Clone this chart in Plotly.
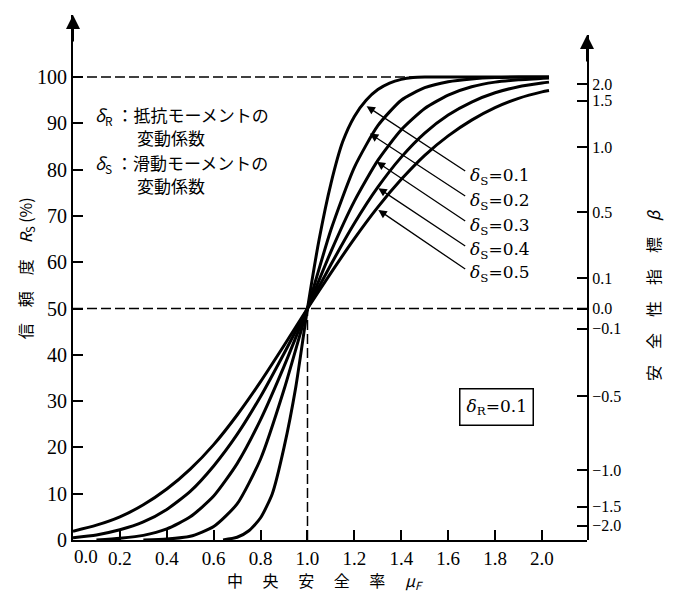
import plotly.graph_objects as go

# ---- data ----
mu_01 = [0.64, 0.70, 0.75, 0.80, 0.85, 0.90, 0.95, 1.00, 1.05, 1.10, 1.15, 1.20, 1.25, 1.30, 1.35, 1.40, 1.45, 1.50, 1.60, 2.03]
rs_01 = [0.0, 0.6, 2.0, 4.8, 10.0, 20.0, 33.0, 50.0, 65.0, 77.0, 86.0, 91.5, 95.0, 97.3, 98.7, 99.5, 99.9, 100.0, 100.0, 100.0]

mu_02 = [0.30, 0.40, 0.50, 0.60, 0.70, 0.80, 0.90, 1.00, 1.10, 1.20, 1.30, 1.40, 1.50, 1.60, 1.70, 1.80, 1.90, 2.03]
rs_02 = [0.0, 0.2, 0.8, 2.9, 7.8, 17.5, 32.5, 50.0, 67.0, 80.5, 89.5, 95.0, 97.7, 99.0, 99.6, 99.9, 100.0, 100.0]

mu_03 = [0.10, 0.20, 0.30, 0.40, 0.50, 0.60, 0.70, 0.80, 0.90, 1.00, 1.10, 1.20, 1.30, 1.40, 1.50, 1.60, 1.70, 1.80, 1.90, 2.03]
rs_03 = [0.0, 0.4, 1.0, 2.4, 5.0, 9.5, 16.5, 26.0, 37.5, 50.0, 62.3, 73.2, 82.0, 88.6, 93.2, 96.1, 97.9, 98.9, 99.4, 99.8]

mu_04 = [0.0, 0.1, 0.2, 0.3, 0.4, 0.5, 0.6, 0.7, 0.8, 0.9, 1.0, 1.1, 1.2, 1.3, 1.4, 1.5, 1.6, 1.7, 1.8, 1.9, 2.0, 2.03]
rs_04 = [0.5, 1.1, 2.2, 3.9, 6.6, 10.5, 16.0, 22.8, 31.0, 40.3, 50.0, 59.5, 68.4, 76.2, 82.7, 87.9, 91.8, 94.6, 96.6, 97.9, 98.7, 98.9]

mu_05 = [0.0, 0.1, 0.2, 0.3, 0.4, 0.5, 0.6, 0.7, 0.8, 0.9, 1.0, 1.1, 1.2, 1.3, 1.4, 1.5, 1.6, 1.7, 1.8, 1.9, 2.0, 2.03]
rs_05 = [1.9, 3.2, 5.0, 7.6, 11.0, 15.3, 20.6, 27.0, 34.2, 42.0, 50.0, 57.7, 65.1, 71.9, 77.9, 83.1, 87.3, 90.7, 93.4, 95.4, 96.8, 97.1]

curve_labels = ["0.1", "0.2", "0.3", "0.4", "0.5"]
arrow_head_mu = [1.252, 1.266, 1.295, 1.302, 1.302]
arrow_head_rs = [93.7, 87.8, 81.7, 76.0, 71.3]
arrow_tail_mu = [1.679, 1.679, 1.679, 1.679, 1.679]
arrow_tail_rs = [79.5, 74.1, 68.7, 63.3, 58.3]
label_rs = [78.6, 73.2, 67.8, 62.6, 57.5]

y_ticks = [0, 10, 20, 30, 40, 50, 60, 70, 80, 90, 100]
x_ticks = [0.2, 0.4, 0.6, 0.8, 1.0, 1.2, 1.4, 1.6, 1.8, 2.0]
x_ticktext = ["0.2", "0.4", "0.6", "0.8", "1.0", "1.2", "1.4", "1.6", "1.8", "2.0"]
beta_labels = ["2.0", "1.5", "1.0", "0.5", "0.1", "0.0", "\u22120.1", "\u22120.5", "\u22121.0", "\u22121.5", "\u22122.0"]
beta_pos = [98.5, 94.9, 84.9, 70.8, 56.6, 50.0, 45.6, 31.1, 15.1, 7.2, 3.1]

X_MAX = 2.192
Y_MAX = 113.4
Y2_MAX = 109.07

SERIF = "Liberation Serif, 'Noto Sans CJK JP'"
DSERIF = "DejaVu Serif, 'Noto Sans CJK JP'"
CJK = "'Noto Sans CJK JP', Liberation Serif"

fig = go.Figure()

for mu, rs in [(mu_01, rs_01), (mu_02, rs_02), (mu_03, rs_03), (mu_04, rs_04), (mu_05, rs_05)]:
    fig.add_trace(go.Scatter(x=mu, y=rs, mode="lines",
                             line=dict(color="black", width=3, shape="spline", smoothing=0.6),
                             showlegend=False, hoverinfo="skip"))

# dummy trace for right axis
fig.add_trace(go.Scatter(x=[None], y=[None], yaxis="y2", showlegend=False))

DASH = dict(color="black", width=1.5, dash="10px,4px")
shapes = [
    dict(type="line", xref="x", yref="y", x0=0, x1=2.03, y0=100, y1=100, line=DASH),
    dict(type="line", xref="x", yref="y", x0=0, x1=X_MAX, y0=50, y1=50, line=DASH),
    dict(type="line", xref="x", yref="y", x0=1.0, x1=1.0, y0=0, y1=50, line=DASH),
]

ann = []
# axis arrows
ann.append(dict(x=0, y=Y_MAX, xref="x", yref="y", ax=0, ay=28, text="", showarrow=True,
                arrowhead=2, arrowsize=1.4, arrowwidth=2, arrowcolor="black"))
ann.append(dict(x=X_MAX, y=Y2_MAX, xref="x", yref="y2", ax=0, ay=28, text="", showarrow=True,
                arrowhead=2, arrowsize=1.4, arrowwidth=2, arrowcolor="black"))

# curve labels with arrows
for lab, hx, hy, tx, ty, ly in zip(curve_labels, arrow_head_mu, arrow_head_rs,
                                   arrow_tail_mu, arrow_tail_rs, label_rs):
    ann.append(dict(x=hx, y=hy, xref="x", yref="y", ax=tx, ay=ty, axref="x", ayref="y",
                    text="", showarrow=True, arrowhead=2, arrowsize=1.3, arrowwidth=1.3,
                    arrowcolor="black"))
    ann.append(dict(x=tx + 0.005, y=ly, xref="x", yref="y", xanchor="left", yanchor="middle",
                    text="<i>\u03b4</i><sub>S</sub>=" + lab, showarrow=False,
                    font=dict(family=DSERIF, size=17, color="black")))

# notes
ann.append(dict(x=0.085, y=91.8, xref="x", yref="y", xanchor="left", yanchor="middle",
                text="<i>\u03b4</i><sub>R</sub> \uff1a抵抗モーメントの", showarrow=False,
                font=dict(family=CJK, size=17, color="black")))
ann.append(dict(x=0.264, y=87.0, xref="x", yref="y", xanchor="left", yanchor="middle",
                text="変動係数", showarrow=False, font=dict(family=CJK, size=17, color="black")))
ann.append(dict(x=0.085, y=81.4, xref="x", yref="y", xanchor="left", yanchor="middle",
                text="<i>\u03b4</i><sub>S</sub> \uff1a滑動モーメントの", showarrow=False,
                font=dict(family=CJK, size=17, color="black")))
ann.append(dict(x=0.264, y=76.5, xref="x", yref="y", xanchor="left", yanchor="middle",
                text="変動係数", showarrow=False, font=dict(family=CJK, size=17, color="black")))

# boxed label
ann.append(dict(x=1.808, y=28.7, xref="x", yref="y", text="<i>\u03b4</i><sub>R</sub>=0.1",
                showarrow=False, bordercolor="black", borderwidth=1.5, borderpad=6,
                font=dict(family=DSERIF, size=17, color="black")))

# 0.0 x tick label (offset right of the axis)
ann.append(dict(x=0.055, y=0, xref="x", yref="y", yanchor="top", yshift=-4, text="0.0",
                showarrow=False, font=dict(family=SERIF, size=19, color="black")))

# axis titles
ann.append(dict(x=(25 - 73) / 514, y=58.7, xref="paper", yref="y", textangle=-90,
                xanchor="center", yanchor="middle",
                text="信\u3000頼\u3000度\u3000<i>R</i><sub>S</sub> (%)", showarrow=False,
                font=dict(family=CJK, size=16, color="black")))
ann.append(dict(x=(653 - 73) / 514, y=52.9, xref="paper", yref="y", textangle=-90,
                xanchor="center", yanchor="middle",
                text="安\u3000全\u3000性\u3000指\u3000標\u3000<i>β</i>", showarrow=False,
                font=dict(family=CJK, size=16, color="black")))
ann.append(dict(x=(325 - 73) / 514, y=(540 - 580) / 525, xref="paper", yref="paper",
                xanchor="center", yanchor="middle",
                text="中\u3000 央\u3000 安\u3000 全\u3000 率\u3000 <i>μ<sub>F</sub></i>", showarrow=False,
                font=dict(family=CJK, size=16, color="black")))

fig.update_layout(
    width=674, height=596,
    margin=dict(l=73, r=87, t=15, b=56),
    paper_bgcolor="white", plot_bgcolor="rgba(0,0,0,0)",
    showlegend=False,
    shapes=shapes,
    annotations=ann,
    xaxis=dict(range=[0, X_MAX], showgrid=False, zeroline=False, showline=True,
               linecolor="black", linewidth=2, ticks="inside", ticklen=10, tickwidth=1.5,
               tickcolor="black", tickvals=x_ticks, ticktext=x_ticktext,
               tickfont=dict(family=SERIF, size=19, color="black")),
    yaxis=dict(range=[0, Y_MAX], showgrid=False, zeroline=False, showline=True,
               linecolor="black", linewidth=2, ticks="inside", ticklen=10, tickwidth=1.5,
               tickcolor="black", tickvals=y_ticks,
               tickfont=dict(family=SERIF, size=20, color="black")),
    yaxis2=dict(range=[0, Y2_MAX], domain=[0, (540 - 35) / 525], anchor="x", side="right",
                showgrid=False, zeroline=False, showline=True,
                linecolor="black", linewidth=2, ticks="inside", ticklen=10, tickwidth=1.5,
                tickcolor="black", tickvals=beta_pos, ticktext=beta_labels,
                tickfont=dict(family=SERIF, size=16, color="black")),
)

fig.write_html("out.html", config={"displayModeBar": False},
               post_script="document.body.style.margin='0px';")
